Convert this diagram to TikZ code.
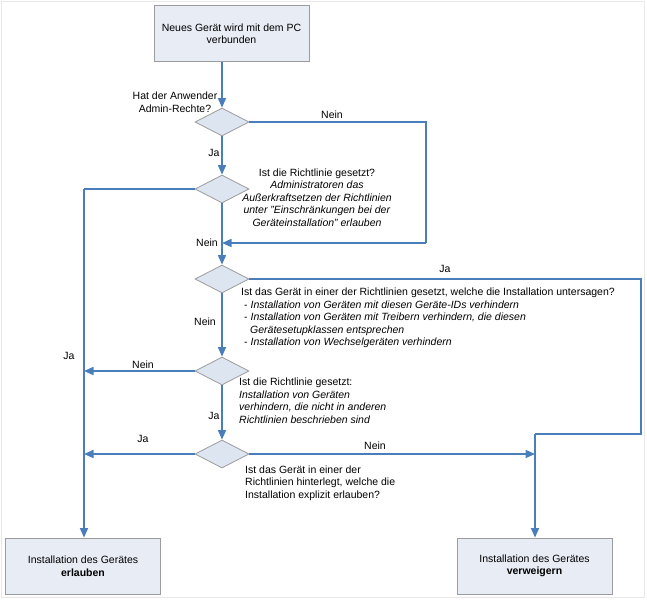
\documentclass[tikz,border=0pt]{standalone}
\usepackage{fontspec}
\setmainfont{Liberation Sans}
\usetikzlibrary{shapes.geometric,arrows.meta}
\definecolor{flow}{HTML}{4A7EBB}
\definecolor{boxfill}{HTML}{E7ECF5}
\definecolor{diafill}{HTML}{DDE5F1}
\definecolor{edgegray}{HTML}{9C9C9C}
\begin{document}
\begin{tikzpicture}[x=1pt,y=-1pt,
  font=\fontsize{10.5}{12.5}\selectfont,
  procbox/.style={draw=edgegray,fill=boxfill,line width=0.8pt,minimum width=155pt,minimum height=56pt,align=center,inner sep=0pt},
  decision/.style={diamond,draw=edgegray,fill=diafill,line width=0.8pt,minimum width=54pt,minimum height=28pt,aspect=1.93,inner sep=0pt},
  conn/.style={draw=flow,line width=1.5pt},
  arr/.style={conn,-{Triangle[width=8pt,length=9.5pt]}},
  lbl/.style={inner sep=0pt,align=center},
  qtext/.style={inner sep=0pt,align=left,anchor=west}]
\useasboundingbox (0,0) rectangle (647,600);
\draw[gray!18,line width=0.8pt] (1,1) rectangle (644,597);

% nodes
\node[procbox] (start) at (231.5,33.5) {Neues Gerät wird mit dem PC\\verbunden};
\node[decision] (d1) at (222,122) {};
\node[decision] (d2) at (222,189) {};
\node[decision] (d3) at (222,279) {};
\node[decision] (d4) at (222,371) {};
\node[decision] (d5) at (222,454) {};
\node[procbox] (el) at (83,566) {Installation des Gerätes\\\textbf{erlauben}};
\node[procbox] (vb) at (534.5,566) {Installation des Gerätes\\\textbf{verweigern}};

% question texts
\node[lbl] (q1) at (175,102) {Hat der Anwender\\Admin-Rechte?};
\node[lbl] (q2) at (317,197.5) {Ist die Richtlinie gesetzt?\\\textit{Administratoren das}\\\textit{Außerkraftsetzen der Richtlinien}\\\textit{unter "Einschränkungen bei der}\\\textit{Geräteinstallation" erlauben}};
\node[qtext] (q3) at (241,318) {Ist das Gerät in einer der Richtlinien gesetzt, welche die Installation untersagen?\\
\hspace*{3pt}- \textit{Installation von Geräten mit diesen Geräte-IDs verhindern}\\
\hspace*{3pt}- \textit{Installation von Geräten mit Treibern verhindern, die diesen}\\
\hspace*{9pt}\textit{Gerätesetupklassen entsprechen}\\
\hspace*{3pt}- \textit{Installation von Wechselgeräten verhindern}};
\node[qtext] (q4) at (239,400.5) {Ist die Richtlinie gesetzt:\\\textit{Installation von Geräten}\\\textit{verhindern, die nicht in anderen}\\\textit{Richtlinien beschrieben sind}};
\node[qtext] (q5) at (245,483) {Ist das Gerät in einer der\\Richtlinien hinterlegt, welche die\\Installation explizit erlauben?};

% helper coordinates
\coordinate (m1) at (222,243);
\coordinate (r1) at (426,122);
\coordinate (r1b) at (426,243);
\coordinate (lc) at (84,189);
\coordinate (la) at (84,371);
\coordinate (lb) at (84,454);
\coordinate (rc1) at (641,279);
\coordinate (rc2) at (641,434);
\coordinate (rc3) at (535,434);
\coordinate (rb) at (535,454);

% connectors
\draw[arr] (d1 |- start.south) -- (d1.north);
\draw[conn] (d1.east) -- (r1) -- (r1b);
\draw[arr] (r1b) -- (m1);
\draw[arr] (d1.south) -- (d2.north);
\draw[conn] (d2.west) -- (lc);
\draw[arr] (lc) -- (el.north -| lc);
\draw[arr] (d2.south) -- (d3.north);
\draw[conn] (d3.east) -- (rc1) -- (rc2) -- (rc3);
\draw[arr] (rc3) -- (vb.north -| rc3);
\draw[arr] (d3.south) -- (d4.north);
\draw[arr] (d4.west) -- (la);
\draw[arr] (d4.south) -- (d5.north);
\draw[arr] (d5.west) -- (lb);
\draw[arr] (d5.east) -- (rb);

% labels
\node[lbl] (l1) at (332,115) {Nein};
\node[lbl] (l2) at (214,153) {Ja};
\node[lbl] (l3) at (207,243) {Nein};
\node[lbl] (l4) at (445,269) {Ja};
\node[lbl] (l5) at (205,322) {Nein};
\node[lbl] (l6) at (69,356) {Ja};
\node[lbl] (l7) at (143,365) {Nein};
\node[lbl] (l8) at (214,416) {Ja};
\node[lbl] (l9) at (143,439) {Ja};
\node[lbl] (l10) at (375,446) {Nein};
\end{tikzpicture}
\end{document}
